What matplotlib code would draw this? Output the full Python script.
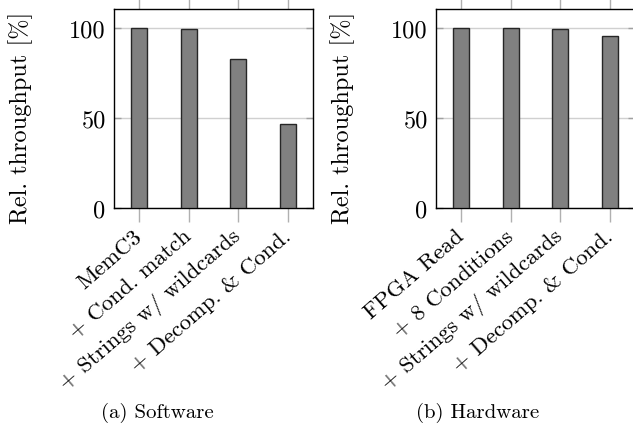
import matplotlib
matplotlib.use('Agg')
import matplotlib.pyplot as plt
import numpy as np

plt.rcParams['font.family'] = 'serif'
plt.rcParams['font.serif'] = ['cmr10']
plt.rcParams['mathtext.fontset'] = 'cm'
plt.rcParams['axes.formatter.use_mathtext'] = True

sw_labels = ['MemC3', '+ Cond. match', '+ Strings w/ wildcards', '+ Decomp. & Cond.']
sw_values = [100, 99.4, 82.4, 46.8]

hw_labels = ['FPGA Read', '+ 8 Conditions', '+ Strings w/ wildcards', '+ Decomp. & Cond.']
hw_values = [100, 99.6, 99.2, 95.3]

y_ticks = [0, 50, 100]
captions = ['(a) Software', '(b) Hardware']

W, H = 633, 427
fig = plt.figure(figsize=(W / 100, H / 100), dpi=100)


def panel(left_px, labels, values, caption, cap_x):
    ax = fig.add_axes([left_px / W, (H - 209) / H, 199 / W, 199 / H])
    x = np.arange(len(labels))
    ax.bar(x, values, width=0.32, color='#808080', edgecolor='#262626',
           linewidth=1.0, zorder=3)
    ax.set_xlim(-0.5, len(labels) - 0.5)
    ax.set_ylim(0, 110.4)
    ax.set_yticks(y_ticks)
    ax.set_yticklabels([str(t) for t in y_ticks], fontsize=17.5)
    ax.yaxis.grid(True, color='#d0d0d0', linewidth=1.0, zorder=0)
    ax.tick_params(axis='y', direction='in', length=5, width=1.0,
                   color='#a0a0a0', left=True, right=True, pad=6)
    ax.set_xticks(x)
    ax.set_xticklabels(labels, rotation=41, ha='right', va='center',
                       rotation_mode='anchor', fontsize=16.5)
    ax.tick_params(axis='x', direction='out', length=10, width=1.0,
                   color='#b0b0b0', top=True, bottom=True, pad=8)
    for s in ax.spines.values():
        s.set_linewidth(1.0)
        s.set_color('black')
    ax.set_ylabel('Rel. throughput [%]', fontsize=17.5)
    ax.yaxis.set_label_coords(-81 / 199, 0.46)
    fig.text(cap_x / W, 1 - 413 / H, caption, ha='center', va='center',
             fontsize=15)
    return ax


panel(114, sw_labels, sw_values, captions[0], 157)
panel(436, hw_labels, hw_values, captions[1], 478)

fig.savefig('out.png', dpi=100)
